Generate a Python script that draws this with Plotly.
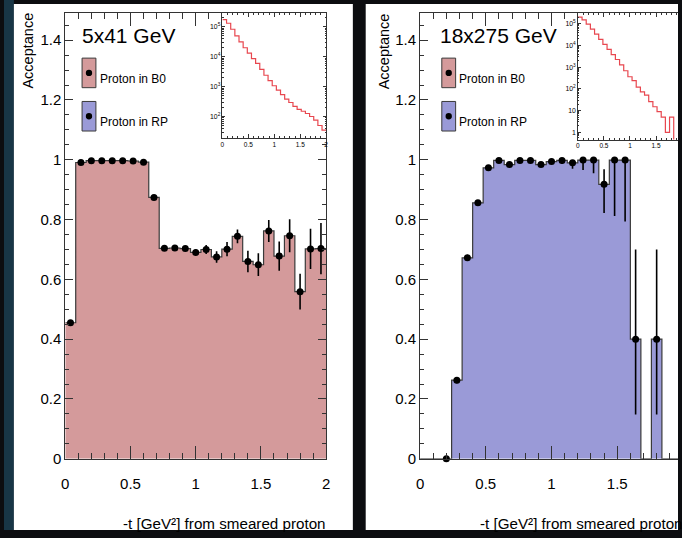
import plotly.graph_objects as go

# ---------------- data ----------------
bin_edges = [0.00, 0.08, 0.16, 0.24, 0.32, 0.40, 0.48, 0.56, 0.64, 0.72, 0.80, 0.88, 0.96,
             1.04, 1.12, 1.20, 1.28, 1.36, 1.44, 1.52, 1.60, 1.68, 1.76, 1.84, 1.92, 2.00]
bin_centers = [0.04, 0.12, 0.20, 0.28, 0.36, 0.44, 0.52, 0.60, 0.68, 0.76, 0.84, 0.92, 1.00,
               1.08, 1.16, 1.24, 1.32, 1.40, 1.48, 1.56, 1.64, 1.72, 1.80, 1.88, 1.96]

# 5x41 GeV : proton in B0 acceptance
left_eff = [0.455, 0.991, 0.997, 0.997, 0.997, 0.997, 0.996, 0.992, 0.874, 0.704, 0.705, 0.703, 0.690,
            0.700, 0.675, 0.701, 0.744, 0.660, 0.649, 0.762, 0.678, 0.746, 0.559, 0.702, 0.703]
left_err = [0.003, 0.002, 0.002, 0.002, 0.002, 0.002, 0.002, 0.002, 0.005, 0.008, 0.008, 0.008, 0.010,
            0.015, 0.019, 0.024, 0.023, 0.036, 0.038, 0.037, 0.049, 0.055, 0.060, 0.067, 0.086]

# 18x275 GeV : proton in RP acceptance (None = no point drawn)
right_eff = [None, None, 0.0, 0.263, 0.672, 0.856, 0.973, 0.998, 0.984, 0.998, 0.998, 0.984, 0.994,
             0.998, 0.990, 0.999, 0.999, 0.918, 0.999, 0.999, 0.400, None, 0.400, None, None]
right_err_up = [0, 0, 0, 0.010, 0.010, 0.008, 0.005, 0.002, 0.006, 0.002, 0.002, 0.006, 0.004,
                0.002, 0.008, 0.001, 0.001, 0.050, 0.001, 0.001, 0.300, 0, 0.300, 0, 0]
right_err_down = [0, 0, 0, 0.010, 0.010, 0.008, 0.006, 0.004, 0.008, 0.004, 0.004, 0.008, 0.006,
                  0.012, 0.020, 0.033, 0.044, 0.096, 0.187, 0.205, 0.252, 0, 0.252, 0, 0]

# inset -t distributions (counts)
left_counts = [174000, 132000, 83000, 50000, 31600, 20000, 13200, 8700, 6000, 3800, 2400, 1590, 1070,
               760, 540, 380, 295, 220, 174, 150, 126, 100, 76, 50, 35]
right_counts = [200000, 151000, 95000, 56000, 33000, 19000, 11200, 6600, 3800, 2240, 1260, 680, 360,
                240, 120, 72, 51, 26, 15, 9, 5, 1, 5, 0, 0]

panel_titles = ["5x41 GeV", "18x275 GeV"]
legend_labels = ["Proton in B0", "Proton in RP"]
x_title = "-t [GeV²] from smeared proton"
y_title = "Acceptance"

# ---------------- styles ----------------
W, H = 682, 538
FONT = "Liberation Sans, Arial, Helvetica, sans-serif"
PINK = "#d49a9b"
BLUE = "#9a9ad7"
OUTLINE = "#3a3a3a"
AXC = "#333333"
RED = "#e8474f"


def px(x):
    return x / W


def py(y):
    return 1 - y / H


def step_xy(vals, floor=0.0):
    ys = [floor if v is None or v <= 0 else v for v in vals]
    return list(bin_edges), ys + [ys[-1]]


fig = go.Figure()

# main histograms (filled step)
for vals, color, xa, ya in [(left_eff, PINK, "x", "y"), (right_eff, BLUE, "x2", "y2")]:
    sx, sy = step_xy(vals)
    fig.add_trace(go.Scatter(x=sx, y=sy, mode="lines", line=dict(shape="hv", color=OUTLINE, width=1.2),
                             fill="tozeroy", fillcolor=color, xaxis=xa, yaxis=ya,
                             hoverinfo="skip", showlegend=False))

# points with error bars
fig.add_trace(go.Scatter(x=bin_centers, y=left_eff, mode="markers",
                         marker=dict(color="black", size=7),
                         error_y=dict(type="data", array=left_err, color="black", thickness=1.6, width=0),
                         cliponaxis=False, xaxis="x", yaxis="y", showlegend=False))
fig.add_trace(go.Scatter(x=bin_centers, y=right_eff, mode="markers",
                         marker=dict(color="black", size=7),
                         error_y=dict(type="data", symmetric=False, array=right_err_up,
                                      arrayminus=right_err_down, color="black", thickness=1.6, width=0),
                         cliponaxis=False, xaxis="x2", yaxis="y2", showlegend=False))

# insets
for counts, xa, ya in [(left_counts, "x3", "y3"), (right_counts, "x4", "y4")]:
    sx, sy = step_xy(counts, floor=0.01)
    fig.add_trace(go.Scatter(x=sx, y=sy, mode="lines", line=dict(shape="hv", color=RED, width=1.2),
                             xaxis=xa, yaxis=ya, hoverinfo="skip", showlegend=False))

# ---------------- axes ----------------
ytop, ybot = 12.7, 465.7
ymax = 1.4926


def main_x(domain, rng, mirror=True):
    return dict(domain=domain, range=rng, showline=True, linecolor=AXC, linewidth=1,
                mirror="ticks" if mirror else False, ticks="inside", ticklen=13, tickwidth=1,
                tickcolor=AXC, tick0=0, dtick=0.5, ticklabelstandoff=11,
                minor=dict(ticks="inside", ticklen=6, dtick=0.1, tickcolor=AXC, showgrid=False),
                showgrid=False, zeroline=False,
                tickfont=dict(size=15, color="black", family=FONT), fixedrange=True)


def main_y(domain, mirror=True, anchor="x"):
    return dict(domain=domain, range=[0, ymax], anchor=anchor, showline=True, linecolor=AXC, linewidth=1,
                mirror="ticks" if mirror else False, ticks="inside", ticklen=8, tickwidth=1,
                tickcolor=AXC, tick0=0, dtick=0.2,
                minor=dict(ticks="inside", ticklen=4, dtick=0.05, tickcolor=AXC, showgrid=False),
                showgrid=False, zeroline=False,
                tickfont=dict(size=15, color="black", family=FONT), fixedrange=True)


def inset_x(domain, rng, anchor):
    return dict(domain=domain, range=rng, anchor=anchor, showline=True, linecolor=AXC, linewidth=1,
                mirror="ticks", ticks="inside", ticklen=4, tickwidth=1, tickcolor=AXC,
                tick0=0, dtick=0.5,
                minor=dict(ticks="inside", ticklen=2, dtick=0.1, tickcolor=AXC, showgrid=False),
                showgrid=False, zeroline=False,
                tickfont=dict(size=6.5, color="black", family=FONT), fixedrange=True)


def inset_y(domain, rng, anchor, mirror=True):
    return dict(domain=domain, range=rng, type="log", anchor=anchor, showline=True, linecolor=AXC,
                linewidth=1, mirror="ticks" if mirror else False, ticks="inside", ticklen=3,
                tickwidth=1, tickcolor=AXC, dtick=1, exponentformat="power",
                minor=dict(ticks="inside", ticklen=1.5, tickcolor=AXC, showgrid=False),
                showgrid=False, zeroline=False,
                tickfont=dict(size=5.5, color="black", family=FONT), fixedrange=True)


ydom = [py(ybot), py(ytop)]
fig.update_layout(
    xaxis=dict(main_x([px(62), px(326)], [0, 2]), anchor="y"),
    yaxis=main_y(ydom, anchor="x"),
    xaxis2=dict(main_x([px(421), 1.0], [0, 261 / 133.0]), anchor="y2"),
    yaxis2=main_y(ydom, mirror=False, anchor="x2"),
    xaxis3=inset_x([px(221), px(326)], [0, 2], "y3"),
    yaxis3=inset_y([py(140), py(12.7)], [1.284, 5.48], "x3"),
    xaxis4=inset_x([px(580.7), 1.0], [0, (682 - 580.7) / 52.7], "y4"),
    yaxis4=inset_y([py(141.7), py(12.7)], [-0.336, 5.514], "x4", mirror=False),
)

# ---------------- decorations ----------------
shapes = [
    dict(type="rect", xref="paper", yref="paper", x0=0, x1=px(10), y0=0, y1=1,
         fillcolor="#183646", line=dict(width=0), layer="below"),
    dict(type="rect", xref="paper", yref="paper", x0=px(10), x1=px(353), y0=0, y1=py(4),
         fillcolor="white", line=dict(width=0), layer="below"),
    dict(type="rect", xref="paper", yref="paper", x0=px(366), x1=1, y0=0, y1=py(4),
         fillcolor="white", line=dict(width=0), layer="below"),
]
annotations = []

panels = [
    dict(x_left=77, ytitle_x=24, leg_x0=79, leg_x1=93, text_x=95, axis_end=326),
    dict(x_left=439, ytitle_x=384, leg_x0=443, leg_x1=457, text_x=458, axis_end=687),
]
leg_colors = [PINK, BLUE]
leg_boxes = [(59, 89), (103, 133)]
for i, p in enumerate(panels):
    annotations.append(dict(text=panel_titles[i], xref="paper", yref="paper", x=px(p["x_left"]), y=py(36.5),
                            xanchor="left", yanchor="middle", showarrow=False,
                            font=dict(size=21, color="black", family=FONT)))
    annotations.append(dict(text=y_title, xref="paper", yref="paper", x=px(p["ytitle_x"]), y=py(11),
                            xanchor="center", yanchor="top", textangle=-90, showarrow=False,
                            font=dict(size=14.5, color="black", family=FONT)))
    annotations.append(dict(text=x_title, xref="paper", yref="paper", x=px(p["axis_end"] + 2), y=py(531),
                            xanchor="right", yanchor="middle", showarrow=False,
                            font=dict(size=15.2, color="black", family=FONT)))
    for j, (y0, y1) in enumerate(leg_boxes):
        shapes.append(dict(type="rect", xref="paper", yref="paper", x0=px(p["leg_x0"]), x1=px(p["leg_x1"]),
                           y0=py(y1), y1=py(y0), fillcolor=leg_colors[j], line=dict(color=OUTLINE, width=1)))
        cx = (p["leg_x0"] + p["leg_x1"]) / 2
        cy = (y0 + y1) / 2
        shapes.append(dict(type="circle", xref="paper", yref="paper", x0=px(cx - 3.2), x1=px(cx + 3.2),
                           y0=py(cy + 3.2), y1=py(cy - 3.2), fillcolor="black", line=dict(width=0)))
        annotations.append(dict(text=legend_labels[j], xref="paper", yref="paper", x=px(p["text_x"]),
                                y=py(cy + 6), xanchor="left", yanchor="middle", showarrow=False,
                                font=dict(size=12, color="black", family=FONT)))

fig.update_layout(
    width=W, height=H, autosize=False,
    margin=dict(l=0, r=0, t=0, b=0, pad=0),
    paper_bgcolor="#0c0d10", plot_bgcolor="white",
    shapes=shapes, annotations=annotations,
    showlegend=False,
    font=dict(family=FONT, color="black"),
)

fig.write_html("out.html", config={"displayModeBar": False})
